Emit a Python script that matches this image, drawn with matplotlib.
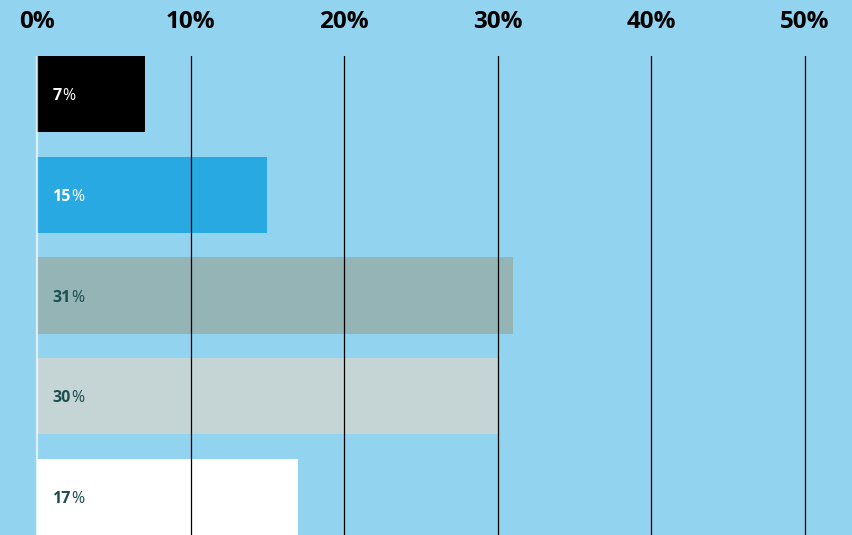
import matplotlib.pyplot as plt

# values
values = [7, 15, 31, 30, 17]
bar_colors = ["#000000", "#29A9E1", "#95B4B6", "#C5D5D5", "#FFFFFF"]
label_colors = ["#FFFFFF", "#FFFFFF", "#1C4E4F", "#1C4E4F", "#1C4E4F"]
ticks = [0, 10, 20, 30, 40, 50]
tick_labels = ["0%", "10%", "20%", "30%", "40%", "50%"]

bg = "#92D3F0"
plt.rcParams["font.family"] = ["Open Sans", "DejaVu Sans"]

fig = plt.figure(figsize=(8.52, 5.35), dpi=100, facecolor=bg)
ax = fig.add_axes([0, 0, 1, 479 / 535])
ax.set_facecolor(bg)

ypos = list(range(len(values)))
ax.barh(ypos, values, height=0.76, color=bar_colors, zorder=1)

# gridlines on top of the bars
for t in ticks[1:]:
    ax.axvline(t, color="black", lw=0.9, zorder=3)
ax.axvline(0, color="white", lw=1.6, alpha=0.7, zorder=3)

# labels: bold number, lighter percent sign
for y, v, c in zip(ypos, values, label_colors):
    t = ax.text(1.0, y, str(v), color=c, fontsize=11.5, fontweight="bold",
                va="center_baseline", ha="left", zorder=4)
    ax.annotate("%", xy=(1, 0), xycoords=t, xytext=(0.3, 0),
                textcoords="offset points", color=c, fontsize=11.5,
                va="bottom", ha="left", zorder=4)

ax.set_xlim(-2.41, 53.06)
ax.set_ylim(4.38, -0.38)
ax.xaxis.tick_top()
ax.set_xticks(ticks)
ax.set_xticklabels(tick_labels, fontsize=17.5, fontweight="bold")
ax.tick_params(axis="x", length=0, pad=16)
ax.set_yticks([])
for s in ax.spines.values():
    s.set_visible(False)

plt.savefig("out.png", dpi=100, facecolor=bg)
